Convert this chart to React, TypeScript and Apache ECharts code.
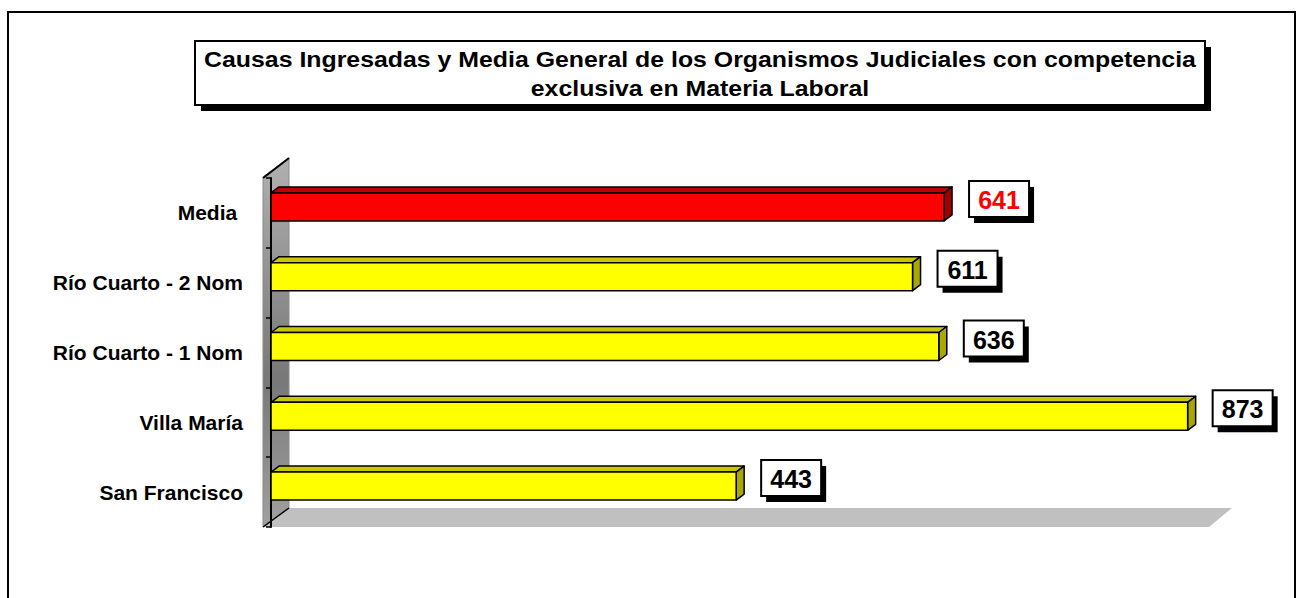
import React, { useEffect, useRef } from "react";
import * as echarts from "echarts";

const categories = ["San Francisco", "Villa María", "Río Cuarto - 1 Nom", "Río Cuarto - 2 Nom", "Media "];
const values = [443, 873, 636, 611, 641];
const highlightCategory = "Media ";
const titleLines = [
  "Causas Ingresadas y Media General de los Organismos Judiciales con competencia",
  "exclusiva en Materia Laboral",
];
const xMin = 0;
const xMax = 900;

const FONT = "Arial, 'Liberation Sans', Helvetica, sans-serif";

export default function App() {
  const ref = useRef<HTMLDivElement>(null);

  useEffect(() => {
    if (!ref.current) return;
    const chart = echarts.init(ref.current, undefined, { renderer: "svg" });

    const gridLeft = 271;
    const gridTop = 178;
    const gridRight = 82;
    const gridBottom = 71;

    const dx = 8;
    const dy = 6;

    const renderItem = (params: any, api: any) => {
      const v = api.value(0);
      const cat = api.value(1);
      const start = api.coord([0, cat]);
      const end = api.coord([v, cat]);
      const cy = start[1];
      const x0 = start[0];
      const x1 = end[0];
      const top = cy - 20;
      const bot = cy + 8;
      const isHi = categories[cat] === highlightCategory;
      const front = isHi ? "#ff0000" : "#ffff00";
      const topC = isHi ? "#c00000" : "#c8c800";
      const sideC = isHi ? "#a00000" : "#a8a800";
      const stroke = { stroke: "#000", lineWidth: 1.5, lineJoin: "round" };
      const bw = 60;
      const bh = 36;
      const bx = x1 + 25;
      const by = cy - 14 - bh / 2;
      return {
        type: "group",
        children: [
          {
            type: "polygon",
            shape: { points: [[x0, top], [x0 + dx, top - dy], [x1 + dx, top - dy], [x1, top]] },
            style: { fill: topC, ...stroke },
          },
          {
            type: "polygon",
            shape: { points: [[x1, top], [x1 + dx, top - dy], [x1 + dx, bot - dy], [x1, bot]] },
            style: { fill: sideC, ...stroke },
          },
          {
            type: "rect",
            shape: { x: x0, y: top, width: x1 - x0, height: bot - top },
            style: { fill: front, ...stroke },
          },
          {
            type: "rect",
            shape: { x: bx + 5, y: by + 6, width: bw, height: bh },
            style: { fill: "#000" },
          },
          {
            type: "rect",
            shape: { x: bx, y: by, width: bw, height: bh },
            style: { fill: "#fff", stroke: "#000", lineWidth: 2 },
          },
          {
            type: "text",
            style: {
              x: bx + bw / 2,
              y: by + bh / 2 + 1,
              text: String(v),
              fill: isHi ? "#ff0000" : "#000",
              font: `bold 25px ${FONT}`,
              align: "center",
              verticalAlign: "middle",
            },
          },
        ],
      };
    };

    const wallGrad = new echarts.graphic.LinearGradient(0, 0, 0, 1, [
      { offset: 0, color: "#b0b0b0" },
      { offset: 0.6, color: "#787878" },
      { offset: 1, color: "#a0a0a0" },
    ]);

    chart.setOption({
      animation: false,
      backgroundColor: "#fff",
      grid: { left: gridLeft, right: gridRight, top: gridTop, bottom: gridBottom, containLabel: false },
      xAxis: {
        type: "value",
        min: xMin,
        max: xMax,
        show: false,
      },
      yAxis: {
        type: "category",
        data: categories,
        offset: 9,
        axisLine: { show: true, lineStyle: { color: "#000", width: 2 } },
        axisTick: { show: true, length: 5, lineStyle: { color: "#000", width: 1.5 } },
        axisLabel: {
          color: "#000",
          fontWeight: "bold",
          fontSize: 21,
          fontFamily: FONT,
          margin: 19,
        },
        splitLine: { show: false },
      },
      graphic: [
        {
          type: "rect",
          z: -10,
          shape: { x: 8, y: 12, width: 1287, height: 640 },
          style: { fill: "#fff", stroke: "#000", lineWidth: 2 },
        },
        {
          type: "polygon",
          z: -5,
          shape: { points: [[263, 527], [289, 508], [1232, 508], [1209, 527]] },
          style: { fill: "#c0c0c0" },
        },
        {
          type: "polygon",
          z: -4,
          shape: { points: [[263, 177], [289, 158], [289, 508], [263, 527]] },
          style: { fill: wallGrad, stroke: "#8a8a8a", lineWidth: 1 },
        },
        {
          type: "polyline",
          z: -3,
          shape: { points: [[263, 178], [289, 158]] },
          style: { stroke: "#000", lineWidth: 2 },
        },
        {
          type: "polyline",
          z: -3,
          shape: { points: [[263, 527], [289, 508]] },
          style: { stroke: "#000", lineWidth: 1.5 },
        },
        {
          type: "rect",
          z: 5,
          shape: { x: 201, y: 47, width: 1010, height: 64 },
          style: { fill: "#000" },
        },
        {
          type: "rect",
          z: 6,
          shape: { x: 195, y: 41, width: 1010, height: 64 },
          style: { fill: "#fff", stroke: "#000", lineWidth: 2 },
        },
        {
          type: "text",
          z: 7,
          x: 700,
          y: 60,
          scaleX: 1.13,
          style: {
            x: 0,
            y: 0,
            text: titleLines[0],
            fill: "#000",
            font: `bold 22px ${FONT}`,
            align: "center",
            verticalAlign: "middle",
          },
        },
        {
          type: "text",
          z: 7,
          x: 700,
          y: 89,
          scaleX: 1.13,
          style: {
            x: 0,
            y: 0,
            text: titleLines[1],
            fill: "#000",
            font: `bold 22px ${FONT}`,
            align: "center",
            verticalAlign: "middle",
          },
        },
      ],
      series: [
        {
          type: "custom",
          renderItem,
          encode: { x: 0, y: 1 },
          data: values.map((v, i) => [v, i]),
          clip: false,
        },
      ],
    });

    return () => chart.dispose();
  }, []);

  return (
    <div
      ref={ref}
      style={{ position: "fixed", left: 0, top: 0, width: 1298, height: 598 }}
    />
  );
}
